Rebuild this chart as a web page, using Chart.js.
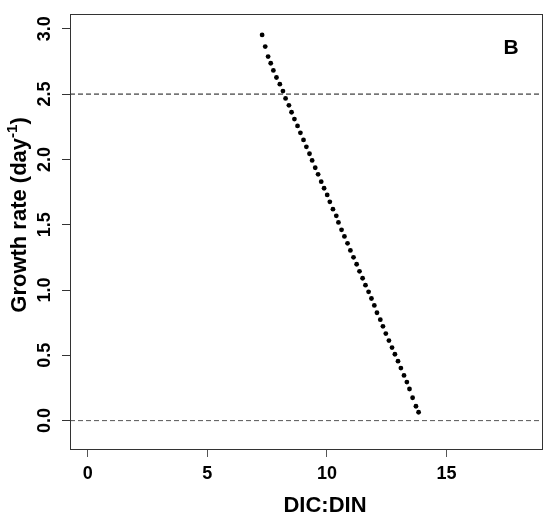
<!DOCTYPE html>
<html>
<head>
<meta charset="utf-8">
<script src="https://cdn.jsdelivr.net/npm/chart.js@4.4.1/dist/chart.umd.min.js"></script>
<style>
  html, body { margin: 0; padding: 0; background: #ffffff; }
  #wrap { width: 547px; height: 529px; }
</style>
</head>
<body>
<div id="wrap"><canvas id="c" width="547" height="529"></canvas></div>
<script>
// DIC:DIN ratio and the growth rate reached at each ratio
const dicDin = [
  7.29, 7.42, 7.54, 7.65, 7.76, 7.89, 8.03, 8.16, 8.27, 8.41,
  8.52, 8.64, 8.77, 8.89, 9.02, 9.14, 9.27, 9.38, 9.51, 9.63,
  9.76, 9.88, 10.01, 10.12, 10.25, 10.39, 10.48, 10.61, 10.73, 10.86,
  10.98, 11.11, 11.24, 11.36, 11.49, 11.61, 11.74, 11.86, 11.98, 12.09,
  12.23, 12.34, 12.46, 12.59, 12.72, 12.84, 12.97, 13.09, 13.22, 13.34,
  13.45, 13.58, 13.72, 13.83
];
const growthRate = [
  2.953, 2.864, 2.787, 2.736, 2.681, 2.627, 2.576, 2.523, 2.467, 2.414,
  2.361, 2.309, 2.256, 2.203, 2.149, 2.096, 2.043, 1.992, 1.936, 1.886,
  1.829, 1.779, 1.728, 1.675, 1.619, 1.568, 1.517, 1.461, 1.410, 1.357,
  1.303, 1.250, 1.197, 1.143, 1.090, 1.037, 0.986, 0.935, 0.882, 0.826,
  0.773, 0.722, 0.666, 0.613, 0.559, 0.508, 0.455, 0.402, 0.346, 0.295,
  0.242, 0.175, 0.110, 0.064
];
// Horizontal reference levels (dashed)
const refLevels = [2.5, 0.0];

const xTickValues = [0, 5, 10, 15];
const xTickLabels = ['0', '5', '10', '15'];
const yTickValues = [0, 0.5, 1, 1.5, 2, 2.5, 3];
const yTickLabels = ['0.0', '0.5', '1.0', '1.5', '2.0', '2.5', '3.0'];
const xRange = [-0.74, 19.03];
const yRange = [-0.225, 3.107];

const xTitle = 'DIC:DIN';
const yTitleMain = 'Growth rate (day';
const yTitleSup = '-1';
const yTitleEnd = ')';
const panelLabel = 'B';

const FONT = '"Liberation Sans", Arial, Helvetica, sans-serif';

const points = dicDin.map((x, i) => ({ x: x, y: growthRate[i] }));

const refDatasets = refLevels.map((lvl, i) => ({
  type: 'line',
  data: [{ x: xRange[0], y: lvl }, { x: xRange[1], y: lvl }],
  borderColor: i === 0 ? '#111111' : '#555555',
  borderWidth: 1,
  borderDash: [5, 3],
  pointRadius: 0,
  fill: false,
  order: 2
}));

// Frame, axis titles and panel letter
const decorations = {
  id: 'decorations',
  afterDraw(chart) {
    const { ctx, chartArea: a } = chart;
    ctx.save();
    ctx.strokeStyle = '#333333';
    ctx.lineWidth = 1;
    ctx.strokeRect(Math.round(a.left) + 0.5, Math.round(a.top) - 0.5,
                   Math.round(a.right - a.left) - 1, Math.round(a.bottom - a.top));

    ctx.fillStyle = '#000000';
    // x title
    ctx.font = 'bold 22px ' + FONT;
    ctx.textAlign = 'center';
    ctx.textBaseline = 'alphabetic';
    ctx.fillText(xTitle, 325, 511.5);

    // y title with superscript, reading upwards
    ctx.save();
    ctx.translate(26, 215);
    ctx.rotate(-Math.PI / 2);
    ctx.textAlign = 'left';
    const mainFont = 'bold 22px ' + FONT;
    const supFont = 'bold 15px ' + FONT;
    ctx.font = mainFont;
    const w1 = ctx.measureText(yTitleMain).width;
    const w3 = ctx.measureText(yTitleEnd).width;
    ctx.font = supFont;
    const w2 = ctx.measureText(yTitleSup).width;
    let u = -(w1 + w2 + w3) / 2;
    ctx.font = mainFont;
    ctx.fillText(yTitleMain, u, 0);
    u += w1;
    ctx.font = supFont;
    ctx.fillText(yTitleSup, u, -9);
    u += w2;
    ctx.font = mainFont;
    ctx.fillText(yTitleEnd, u, 0);
    ctx.restore();

    // panel letter
    ctx.font = 'bold 21px ' + FONT;
    ctx.textAlign = 'center';
    ctx.fillText(panelLabel, 511, 54);
    ctx.restore();
  }
};

new Chart(document.getElementById('c'), {
  type: 'scatter',
  data: {
    datasets: [
      {
        data: points,
        backgroundColor: '#000000',
        borderWidth: 0,
        pointRadius: 2.4,
        pointHoverRadius: 2.4,
        showLine: false,
        order: 1
      },
      ...refDatasets
    ]
  },
  options: {
    responsive: false,
    animation: false,
    devicePixelRatio: 1,
    layout: { padding: { left: 0, right: 4, top: 12, bottom: 0 } },
    plugins: { legend: { display: false }, tooltip: { enabled: false } },
    scales: {
      x: {
        type: 'linear',
        min: xRange[0],
        max: xRange[1],
        afterBuildTicks: s => { s.ticks = xTickValues.map(v => ({ value: v })); },
        afterFit: s => { s.height = 79; },
        border: { display: false },
        grid: { drawOnChartArea: false, drawTicks: true, tickLength: 7, tickColor: '#555555', tickWidth: 1 },
        ticks: {
          autoSkip: false, maxRotation: 0, minRotation: 0, padding: 6,
          color: '#000000',
          font: { family: FONT, size: 18, weight: 'bold' },
          callback: (v, i) => xTickLabels[i]
        }
      },
      y: {
        type: 'linear',
        min: yRange[0],
        max: yRange[1],
        afterBuildTicks: s => { s.ticks = yTickValues.map(v => ({ value: v })); },
        afterFit: s => { s.width = 70; },
        border: { display: false },
        grid: { drawOnChartArea: false, drawTicks: true, tickLength: 8, tickColor: '#333333', tickWidth: 1 },
        ticks: {
          autoSkip: false, minRotation: 90, maxRotation: 90, crossAlign: 'center', padding: 4,
          color: '#000000',
          font: { family: FONT, size: 18, weight: 'bold' },
          callback: (v, i) => yTickLabels[i]
        }
      }
    }
  },
  plugins: [decorations]
});
</script>
</body>
</html>
